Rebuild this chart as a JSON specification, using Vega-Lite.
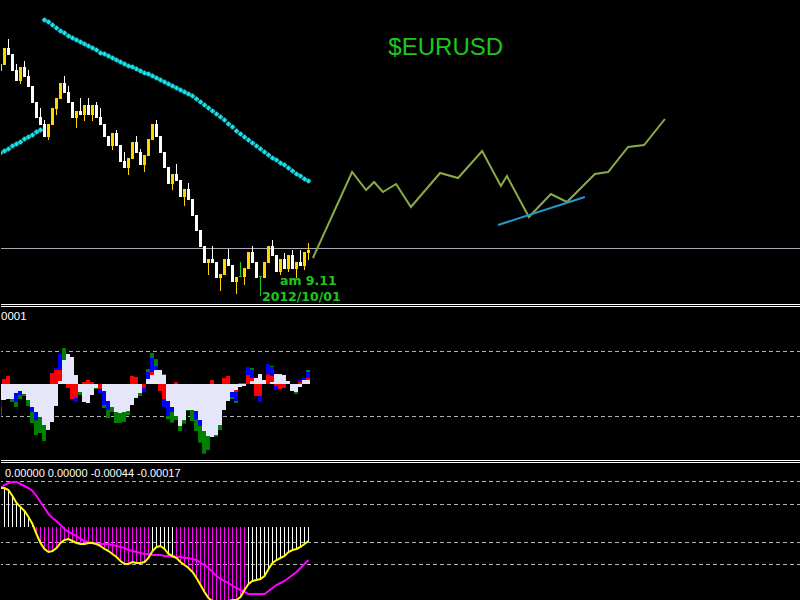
{
"$schema": "https://vega.github.io/schema/vega-lite/v6.json",
"background": "#000000",
"padding": 0,
"spacing": 0,
"config": {"view": {"stroke": null}, "concat": {"spacing": 0}},
"resolve": {"scale": {"color": "independent", "x": "independent", "y": "independent"}},
"datasets": {
"candles": [
{"i":-1,"o":1.3129,"c":1.3136,"h":1.3138,"l":1.3126,"d":"up"},
{"i":0,"o":1.3135,"c":1.3152,"h":1.3152,"l":1.3135,"d":"up"},
{"i":1,"o":1.3152,"c":1.3145,"h":1.3161,"l":1.3145,"d":"down"},
{"i":2,"o":1.3146,"c":1.3129,"h":1.3146,"l":1.3129,"d":"down"},
{"i":3,"o":1.3130,"c":1.3119,"h":1.3136,"l":1.3119,"d":"down"},
{"i":4,"o":1.3119,"c":1.3133,"h":1.3133,"l":1.3116,"d":"up"},
{"i":5,"o":1.3133,"c":1.3123,"h":1.3139,"l":1.3123,"d":"down"},
{"i":6,"o":1.3124,"c":1.3113,"h":1.3130,"l":1.3113,"d":"down"},
{"i":7,"o":1.3114,"c":1.3097,"h":1.3114,"l":1.3097,"d":"down"},
{"i":8,"o":1.3098,"c":1.3082,"h":1.3098,"l":1.3082,"d":"down"},
{"i":9,"o":1.3083,"c":1.3075,"h":1.3092,"l":1.3075,"d":"down"},
{"i":10,"o":1.3076,"c":1.3063,"h":1.3080,"l":1.3063,"d":"down"},
{"i":11,"o":1.3063,"c":1.3076,"h":1.3076,"l":1.3060,"d":"up"},
{"i":12,"o":1.3075,"c":1.3092,"h":1.3092,"l":1.3075,"d":"up"},
{"i":13,"o":1.3091,"c":1.3102,"h":1.3102,"l":1.3085,"d":"up"},
{"i":14,"o":1.3101,"c":1.3117,"h":1.3117,"l":1.3101,"d":"up"},
{"i":15,"o":1.3117,"c":1.3107,"h":1.3124,"l":1.3107,"d":"down"},
{"i":16,"o":1.3108,"c":1.3097,"h":1.3114,"l":1.3097,"d":"down"},
{"i":17,"o":1.3098,"c":1.3082,"h":1.3098,"l":1.3082,"d":"down"},
{"i":18,"o":1.3082,"c":1.3089,"h":1.3089,"l":1.3072,"d":"up"},
{"i":19,"o":1.3089,"c":1.3085,"h":1.3102,"l":1.3085,"d":"down"},
{"i":20,"o":1.3085,"c":1.3095,"h":1.3095,"l":1.3079,"d":"up"},
{"i":21,"o":1.3095,"c":1.3085,"h":1.3102,"l":1.3085,"d":"down"},
{"i":22,"o":1.3085,"c":1.3095,"h":1.3095,"l":1.3079,"d":"up"},
{"i":23,"o":1.3095,"c":1.3082,"h":1.3098,"l":1.3082,"d":"down"},
{"i":24,"o":1.3083,"c":1.3075,"h":1.3092,"l":1.3075,"d":"down"},
{"i":25,"o":1.3076,"c":1.3063,"h":1.3076,"l":1.3063,"d":"down"},
{"i":26,"o":1.3064,"c":1.3054,"h":1.3064,"l":1.3054,"d":"down"},
{"i":27,"o":1.3054,"c":1.3067,"h":1.3067,"l":1.3050,"d":"up"},
{"i":28,"o":1.3067,"c":1.3054,"h":1.3070,"l":1.3054,"d":"down"},
{"i":29,"o":1.3055,"c":1.3038,"h":1.3055,"l":1.3038,"d":"down"},
{"i":30,"o":1.3039,"c":1.3032,"h":1.3048,"l":1.3032,"d":"down"},
{"i":31,"o":1.3032,"c":1.3042,"h":1.3042,"l":1.3025,"d":"up"},
{"i":32,"o":1.3041,"c":1.3058,"h":1.3058,"l":1.3041,"d":"up"},
{"i":33,"o":1.3058,"c":1.3047,"h":1.3064,"l":1.3047,"d":"down"},
{"i":34,"o":1.3048,"c":1.3035,"h":1.3051,"l":1.3035,"d":"down"},
{"i":35,"o":1.3035,"c":1.3045,"h":1.3045,"l":1.3028,"d":"up"},
{"i":36,"o":1.3044,"c":1.3061,"h":1.3061,"l":1.3044,"d":"up"},
{"i":37,"o":1.3060,"c":1.3076,"h":1.3076,"l":1.3060,"d":"up"},
{"i":38,"o":1.3076,"c":1.3063,"h":1.3080,"l":1.3063,"d":"down"},
{"i":39,"o":1.3064,"c":1.3047,"h":1.3064,"l":1.3047,"d":"down"},
{"i":40,"o":1.3048,"c":1.3032,"h":1.3048,"l":1.3032,"d":"down"},
{"i":41,"o":1.3033,"c":1.3016,"h":1.3033,"l":1.3016,"d":"down"},
{"i":42,"o":1.3016,"c":1.3026,"h":1.3026,"l":1.3010,"d":"up"},
{"i":43,"o":1.3026,"c":1.3019,"h":1.3036,"l":1.3019,"d":"down"},
{"i":44,"o":1.3020,"c":1.3003,"h":1.3020,"l":1.3003,"d":"down"},
{"i":45,"o":1.3003,"c":1.3011,"h":1.3011,"l":1.2994,"d":"up"},
{"i":46,"o":1.3011,"c":1.3000,"h":1.3017,"l":1.3000,"d":"down"},
{"i":47,"o":1.3001,"c":1.2984,"h":1.3001,"l":1.2984,"d":"down"},
{"i":48,"o":1.2985,"c":1.2969,"h":1.2985,"l":1.2969,"d":"down"},
{"i":49,"o":1.2970,"c":1.2953,"h":1.2970,"l":1.2953,"d":"down"},
{"i":50,"o":1.2954,"c":1.2937,"h":1.2954,"l":1.2937,"d":"down"},
{"i":51,"o":1.2937,"c":1.2941,"h":1.2941,"l":1.2925,"d":"up"},
{"i":52,"o":1.2941,"c":1.2937,"h":1.2954,"l":1.2937,"d":"down"},
{"i":53,"o":1.2938,"c":1.2922,"h":1.2938,"l":1.2922,"d":"down"},
{"i":54,"o":1.2922,"c":1.2926,"h":1.2926,"l":1.2909,"d":"up"},
{"i":55,"o":1.2925,"c":1.2941,"h":1.2941,"l":1.2925,"d":"up"},
{"i":56,"o":1.2941,"c":1.2934,"h":1.2951,"l":1.2934,"d":"down"},
{"i":57,"o":1.2935,"c":1.2918,"h":1.2935,"l":1.2918,"d":"down"},
{"i":58,"o":1.2918,"c":1.2923,"h":1.2923,"l":1.2906,"d":"up"},
{"i":59,"o":1.2923,"c":1.2924,"h":1.2938,"l":1.2923,"d":"doji"},
{"i":60,"o":1.2923,"c":1.2932,"h":1.2932,"l":1.2915,"d":"up"},
{"i":61,"o":1.2931,"c":1.2948,"h":1.2948,"l":1.2931,"d":"up"},
{"i":62,"o":1.2948,"c":1.2937,"h":1.2954,"l":1.2937,"d":"down"},
{"i":63,"o":1.2938,"c":1.2922,"h":1.2938,"l":1.2922,"d":"down"},
{"i":64,"o":1.2923,"c":1.2924,"h":1.2924,"l":1.2904,"d":"doji"},
{"i":65,"o":1.2922,"c":1.2938,"h":1.2938,"l":1.2922,"d":"up"},
{"i":66,"o":1.2937,"c":1.2954,"h":1.2954,"l":1.2937,"d":"up"},
{"i":67,"o":1.2954,"c":1.2944,"h":1.2960,"l":1.2944,"d":"down"},
{"i":68,"o":1.2945,"c":1.2928,"h":1.2945,"l":1.2928,"d":"down"},
{"i":69,"o":1.2928,"c":1.2941,"h":1.2941,"l":1.2925,"d":"up"},
{"i":70,"o":1.2941,"c":1.2931,"h":1.2947,"l":1.2931,"d":"down"},
{"i":71,"o":1.2931,"c":1.2945,"h":1.2945,"l":1.2928,"d":"up"},
{"i":72,"o":1.2945,"c":1.2931,"h":1.2950,"l":1.2931,"d":"down"},
{"i":73,"o":1.2931,"c":1.2938,"h":1.2938,"l":1.2922,"d":"up"},
{"i":74,"o":1.2938,"c":1.2934,"h":1.2950,"l":1.2934,"d":"down"},
{"i":75,"o":1.2934,"c":1.2948,"h":1.2948,"l":1.2930,"d":"up"},
{"i":76,"o":1.2947,"c":1.2950,"h":1.2957,"l":1.2940,"d":"up"}
],
"ma": [
{"i":-1,"v":1.3047},{"i":0,"v":1.3049},{"i":1,"v":1.3051},{"i":2,"v":1.3054},{"i":3,"v":1.3056},{"i":4,"v":1.3058},{"i":5,"v":1.3061},{"i":6,"v":1.3063},{"i":7,"v":1.3065},{"i":8,"v":1.3068},{"i":9,"v":1.3070},
{"i":10,"v":1.3180},{"i":11,"v":1.3178},{"i":12,"v":1.3175},{"i":13,"v":1.3172},{"i":14,"v":1.3169},{"i":15,"v":1.3167},{"i":16,"v":1.3164},{"i":17,"v":1.3162},{"i":18,"v":1.3160},{"i":19,"v":1.3158},
{"i":20,"v":1.3156},{"i":21,"v":1.3154},{"i":22,"v":1.3152},{"i":23,"v":1.3150},{"i":24,"v":1.3147},{"i":25,"v":1.3146},{"i":26,"v":1.3144},{"i":27,"v":1.3142},{"i":28,"v":1.3140},{"i":29,"v":1.3138},
{"i":30,"v":1.3136},{"i":31,"v":1.3134},{"i":32,"v":1.3133},{"i":33,"v":1.3131},{"i":34,"v":1.3129},{"i":35,"v":1.3127},{"i":36,"v":1.3126},{"i":37,"v":1.3124},{"i":38,"v":1.3122},{"i":39,"v":1.3120},
{"i":40,"v":1.3118},{"i":41,"v":1.3116},{"i":42,"v":1.3114},{"i":43,"v":1.3112},{"i":44,"v":1.3110},{"i":45,"v":1.3108},{"i":46,"v":1.3106},{"i":47,"v":1.3104},{"i":48,"v":1.3101},{"i":49,"v":1.3098},
{"i":50,"v":1.3095},{"i":51,"v":1.3092},{"i":52,"v":1.3089},{"i":53,"v":1.3086},{"i":54,"v":1.3083},{"i":55,"v":1.3080},{"i":56,"v":1.3076},{"i":57,"v":1.3073},{"i":58,"v":1.3069},{"i":59,"v":1.3066},
{"i":60,"v":1.3063},{"i":61,"v":1.3060},{"i":62,"v":1.3057},{"i":63,"v":1.3054},{"i":64,"v":1.3051},{"i":65,"v":1.3048},{"i":66,"v":1.3045},{"i":67,"v":1.3042},{"i":68,"v":1.3040},{"i":69,"v":1.3037},
{"i":70,"v":1.3035},{"i":71,"v":1.3032},{"i":72,"v":1.3029},{"i":73,"v":1.3026},{"i":74,"v":1.3024},{"i":75,"v":1.3021},{"i":76,"v":1.3019}
],
"proj": [
{"i":77.1,"p":1.2942},{"i":86.9,"p":1.3028},{"i":90.4,"p":1.3010},{"i":92.4,"p":1.3018},{"i":94.6,"p":1.3008},{"i":97.9,"p":1.3016},{"i":101.6,"p":1.2993},{"i":108.9,"p":1.3027},{"i":113.4,"p":1.3022},{"i":119.4,"p":1.3049},{"i":124.1,"p":1.3014},{"i":125.6,"p":1.3024},{"i":131.1,"p":1.2983},{"i":136.6,"p":1.3006},{"i":140.6,"p":1.2998},{"i":147.6,"p":1.3026},{"i":150.9,"p":1.3028},{"i":155.9,"p":1.3053},{"i":159.9,"p":1.3055},{"i":165.1,"p":1.3081}
],
"trend": [{"i":123.4,"p":1.2975},{"i":145.1,"p":1.3003}],
"osc": [
{"i":-1,"a":0,"b":-0.00048,"k":"w"},{"i":-1,"a":-0.00048,"b":-0.00069,"k":"b"},{"i":-1,"a":-0.00069,"b":-0.00093,"k":"g"},
{"i":0,"a":0.00015,"b":0,"k":"r"},{"i":0,"a":0,"b":-0.00048,"k":"w"},
{"i":1,"a":0.00024,"b":0,"k":"r"},{"i":1,"a":0,"b":-0.00045,"k":"w"},
{"i":2,"a":0,"b":-0.00045,"k":"w"},{"i":2,"a":-0.00045,"b":-0.00054,"k":"g"},
{"i":3,"a":0,"b":-0.00027,"k":"w"},{"i":3,"a":-0.00027,"b":-0.00054,"k":"b"},{"i":3,"a":-0.00054,"b":-0.00069,"k":"g"},
{"i":4,"a":0,"b":-0.00021,"k":"w"},{"i":4,"a":-0.00021,"b":-0.00033,"k":"b"},{"i":4,"a":-0.00033,"b":-0.00045,"k":"g"},
{"i":5,"a":0,"b":-0.0003,"k":"w"},{"i":5,"a":-0.0003,"b":-0.00036,"k":"g"},
{"i":6,"a":0,"b":-0.00048,"k":"w"},{"i":6,"a":-0.00048,"b":-0.00066,"k":"g"},
{"i":7,"a":0,"b":-0.00069,"k":"w"},{"i":7,"a":-0.00069,"b":-0.00084,"k":"b"},{"i":7,"a":-0.00084,"b":-0.00117,"k":"g"},
{"i":8,"a":0,"b":-0.00084,"k":"w"},{"i":8,"a":-0.00084,"b":-0.00109,"k":"b"},{"i":8,"a":-0.00109,"b":-0.00153,"k":"g"},
{"i":9,"a":0,"b":-0.00099,"k":"w"},{"i":9,"a":-0.00099,"b":-0.00147,"k":"g"},
{"i":10,"a":0,"b":-0.00123,"k":"w"},{"i":10,"a":-0.00123,"b":-0.00171,"k":"g"},
{"i":11,"a":0,"b":-0.00138,"k":"w"},
{"i":12,"a":0.00033,"b":0,"k":"r"},{"i":12,"a":0,"b":-0.00114,"k":"w"},
{"i":13,"a":0.00048,"b":0.00042,"k":"b"},{"i":13,"a":0.00042,"b":0,"k":"r"},{"i":13,"a":0,"b":-0.00066,"k":"w"},
{"i":14,"a":0.0009,"b":0.00042,"k":"b"},{"i":14,"a":0.00042,"b":0.00009,"k":"r"},{"i":14,"a":0.00009,"b":0,"k":"w"},
{"i":15,"a":0.00108,"b":0.00072,"k":"g"},{"i":15,"a":0.00072,"b":0,"k":"w"},
{"i":16,"a":0.0009,"b":0,"k":"w"},{"i":16,"a":0,"b":-0.00012,"k":"r"},
{"i":17,"a":0.00081,"b":0,"k":"w"},{"i":17,"a":0,"b":-0.00045,"k":"r"},
{"i":18,"a":0.00027,"b":0,"k":"w"},{"i":18,"a":0,"b":-0.00042,"k":"r"},{"i":18,"a":-0.00042,"b":-0.00054,"k":"b"},
{"i":19,"a":0,"b":-0.00024,"k":"w"},{"i":19,"a":-0.00024,"b":-0.00033,"k":"g"},
{"i":20,"a":0.00006,"b":0,"k":"r"},{"i":20,"a":0,"b":-0.00054,"k":"w"},
{"i":21,"a":0.00012,"b":0,"k":"r"},{"i":21,"a":0,"b":-0.00057,"k":"w"},
{"i":22,"a":0.00006,"b":0,"k":"r"},{"i":22,"a":0,"b":-0.00033,"k":"w"},
{"i":23,"a":0,"b":-0.00012,"k":"w"},{"i":23,"a":-0.00012,"b":-0.00015,"k":"g"},
{"i":24,"a":0,"b":-0.00015,"k":"r"},{"i":24,"a":-0.00015,"b":-0.00027,"k":"b"},
{"i":25,"a":0,"b":-0.00021,"k":"w"},{"i":25,"a":-0.00021,"b":-0.00063,"k":"b"},{"i":25,"a":-0.00063,"b":-0.00072,"k":"g"},
{"i":26,"a":0,"b":-0.00051,"k":"w"},{"i":26,"a":-0.00051,"b":-0.00078,"k":"b"},{"i":26,"a":-0.00078,"b":-0.00102,"k":"g"},
{"i":27,"a":0,"b":-0.00069,"k":"w"},{"i":27,"a":-0.00069,"b":-0.00084,"k":"g"},
{"i":28,"a":0,"b":-0.00084,"k":"w"},{"i":28,"a":-0.00084,"b":-0.00117,"k":"g"},
{"i":29,"a":0,"b":-0.00087,"k":"w"},{"i":29,"a":-0.00087,"b":-0.00117,"k":"g"},
{"i":30,"a":0,"b":-0.00084,"k":"w"},{"i":30,"a":-0.00084,"b":-0.00114,"k":"g"},
{"i":31,"a":0,"b":-0.00081,"k":"w"},{"i":31,"a":-0.00081,"b":-0.00093,"k":"g"},
{"i":32,"a":0.00024,"b":0,"k":"r"},{"i":32,"a":0,"b":-0.00063,"k":"w"},
{"i":33,"a":0.00021,"b":0,"k":"r"},{"i":33,"a":0,"b":-0.00042,"k":"w"},
{"i":34,"a":0,"b":-0.00027,"k":"w"},{"i":34,"a":-0.00027,"b":-0.00036,"k":"g"},
{"i":35,"a":0,"b":-0.00012,"k":"r"},{"i":35,"a":-0.00012,"b":-0.00024,"k":"b"},
{"i":36,"a":0.00045,"b":0.00036,"k":"g"},{"i":36,"a":0.00036,"b":0.00015,"k":"b"},{"i":36,"a":0.00015,"b":0,"k":"w"},
{"i":37,"a":0.00093,"b":0.00078,"k":"g"},{"i":37,"a":0.00078,"b":0.00036,"k":"b"},{"i":37,"a":0.00036,"b":0.00027,"k":"r"},{"i":37,"a":0.00027,"b":0,"k":"w"},
{"i":38,"a":0.00075,"b":0.00054,"k":"g"},{"i":38,"a":0.00054,"b":0.00042,"k":"b"},{"i":38,"a":0.00042,"b":0,"k":"w"},
{"i":39,"a":0.00042,"b":0,"k":"w"},{"i":39,"a":0,"b":-0.00021,"k":"r"},
{"i":40,"a":0.00028,"b":0,"k":"w"},{"i":40,"a":0,"b":-0.00045,"k":"r"},{"i":40,"a":-0.00045,"b":-0.00069,"k":"b"},
{"i":41,"a":0,"b":-0.00051,"k":"w"},{"i":41,"a":-0.00051,"b":-0.00096,"k":"b"},{"i":41,"a":-0.00096,"b":-0.00106,"k":"g"},
{"i":42,"a":0,"b":-0.00069,"k":"w"},{"i":42,"a":-0.00069,"b":-0.00084,"k":"b"},{"i":42,"a":-0.00084,"b":-0.00116,"k":"g"},
{"i":43,"a":0.00006,"b":0,"k":"r"},{"i":43,"a":0,"b":-0.00096,"k":"w"},{"i":43,"a":-0.00096,"b":-0.00108,"k":"g"},
{"i":44,"a":0,"b":-0.00126,"k":"w"},{"i":44,"a":-0.00126,"b":-0.00141,"k":"g"},
{"i":45,"a":0,"b":-0.00108,"k":"w"},{"i":45,"a":-0.00108,"b":-0.00119,"k":"g"},
{"i":46,"a":0,"b":-0.00078,"k":"w"},{"i":46,"a":-0.00078,"b":-0.00081,"k":"g"},
{"i":47,"a":0,"b":-0.00078,"k":"w"},{"i":47,"a":-0.00078,"b":-0.00111,"k":"g"},
{"i":48,"a":0,"b":-0.00081,"k":"w"},{"i":48,"a":-0.00081,"b":-0.00106,"k":"b"},{"i":48,"a":-0.00106,"b":-0.00141,"k":"g"},
{"i":49,"a":0,"b":-0.00108,"k":"w"},{"i":49,"a":-0.00108,"b":-0.00126,"k":"b"},{"i":49,"a":-0.00126,"b":-0.00176,"k":"g"},
{"i":50,"a":0,"b":-0.00141,"k":"w"},{"i":50,"a":-0.00141,"b":-0.00209,"k":"g"},
{"i":51,"a":0,"b":-0.00156,"k":"w"},{"i":51,"a":-0.00156,"b":-0.00198,"k":"g"},
{"i":52,"a":0.00012,"b":0,"k":"r"},{"i":52,"a":0,"b":-0.00159,"k":"w"},
{"i":53,"a":0,"b":-0.00153,"k":"w"},{"i":53,"a":-0.00153,"b":-0.00158,"k":"g"},
{"i":54,"a":0,"b":-0.00123,"k":"w"},{"i":54,"a":-0.00123,"b":-0.00138,"k":"g"},
{"i":55,"a":0.00018,"b":0,"k":"r"},{"i":55,"a":0,"b":-0.00078,"k":"w"},
{"i":56,"a":0.00024,"b":0,"k":"r"},{"i":56,"a":0,"b":-0.00051,"k":"w"},
{"i":57,"a":0,"b":-0.00024,"k":"w"},{"i":57,"a":-0.00024,"b":-0.00039,"k":"b"},{"i":57,"a":-0.00039,"b":-0.00045,"k":"g"},
{"i":58,"a":0,"b":-0.00018,"k":"w"},{"i":58,"a":-0.00018,"b":-0.00024,"k":"r"},{"i":58,"a":-0.00024,"b":-0.00051,"k":"b"},{"i":58,"a":-0.00051,"b":-0.00057,"k":"g"},
{"i":59,"a":0.00003,"b":0,"k":"r"},{"i":59,"a":0,"b":-0.00009,"k":"w"},
{"i":60,"a":0.00003,"b":0,"k":"r"},{"i":60,"a":0,"b":-0.00006,"k":"w"},
{"i":61,"a":0.00051,"b":0.00027,"k":"b"},{"i":61,"a":0.00027,"b":0,"k":"r"},
{"i":62,"a":0.00048,"b":0.00042,"k":"g"},{"i":62,"a":0.00042,"b":0.00018,"k":"b"},{"i":62,"a":0.00018,"b":0.00009,"k":"r"},{"i":62,"a":0.00009,"b":0,"k":"w"},
{"i":63,"a":0.00018,"b":0,"k":"w"},{"i":63,"a":0,"b":-0.00036,"k":"r"},
{"i":64,"a":0.0003,"b":0,"k":"w"},{"i":64,"a":0,"b":-0.00036,"k":"r"},{"i":64,"a":-0.00036,"b":-0.00054,"k":"b"},
{"i":65,"a":0.00012,"b":0,"k":"w"},
{"i":66,"a":0.0006,"b":0.00029,"k":"b"},{"i":66,"a":0.00029,"b":0,"k":"r"},
{"i":67,"a":0.00054,"b":0.00051,"k":"g"},{"i":67,"a":0.00051,"b":0.00024,"k":"b"},{"i":67,"a":0.00024,"b":0.00006,"k":"r"},{"i":67,"a":0.00006,"b":0,"k":"w"},
{"i":68,"a":0.0003,"b":0,"k":"w"},{"i":68,"a":0,"b":-0.00006,"k":"r"},{"i":68,"a":-0.00006,"b":-0.00018,"k":"b"},
{"i":69,"a":0.0003,"b":0,"k":"w"},{"i":69,"a":0,"b":-0.00015,"k":"r"},
{"i":70,"a":0.00027,"b":0,"k":"w"},{"i":70,"a":0,"b":-0.00012,"k":"r"},
{"i":71,"a":0.00009,"b":0,"k":"w"},
{"i":72,"a":0,"b":-0.00021,"k":"w"},
{"i":73,"a":0,"b":-0.00024,"k":"w"},{"i":73,"a":-0.00024,"b":-0.0003,"k":"g"},
{"i":74,"a":0.00012,"b":0.00006,"k":"b"},{"i":74,"a":0.00006,"b":0,"k":"r"},{"i":74,"a":0,"b":-0.00009,"k":"w"},
{"i":75,"a":0.00019,"b":0.00012,"k":"b"},{"i":75,"a":0.00012,"b":0,"k":"w"},
{"i":76,"a":0.00042,"b":0.00036,"k":"g"},{"i":76,"a":0.00036,"b":0.00018,"k":"b"},{"i":76,"a":0.00018,"b":0.00012,"k":"r"},{"i":76,"a":0.00012,"b":0,"k":"w"}
],
"macd": [
{"i":-1,"m":0.00039,"s":0.00039,"k":"w"},{"i":0,"m":0.00039,"s":0.00042,"k":"w"},{"i":1,"m":0.00037,"s":0.00044,"k":"w"},{"i":2,"m":0.00031,"s":0.00045,"k":"w"},{"i":3,"m":0.00024,"s":0.00045,"k":"w"},{"i":4,"m":0.0002,"s":0.00043,"k":"w"},{"i":5,"m":0.00016,"s":0.00041,"k":"w"},{"i":6,"m":0.0001,"s":0.00039,"k":"w"},{"i":7,"m":0.00003,"s":0.00036,"k":"w"},
{"i":8,"m":-0.00007,"s":0.00031,"k":"m"},{"i":9,"m":-0.00016,"s":0.00025,"k":"m"},{"i":10,"m":-0.00022,"s":0.00019,"k":"m"},{"i":11,"m":-0.00025,"s":0.00013,"k":"m"},{"i":12,"m":-0.00024,"s":0.00009,"k":"m"},{"i":13,"m":-0.00021,"s":0.00006,"k":"m"},{"i":14,"m":-0.00016,"s":0.00002,"k":"m"},{"i":15,"m":-0.00013,"s":-0.00002,"k":"m"},{"i":16,"m":-0.00012,"s":-0.00005,"k":"m"},{"i":17,"m":-0.00014,"s":-0.00007,"k":"m"},
{"i":18,"m":-0.00016,"s":-0.00009,"k":"m"},{"i":19,"m":-0.00017,"s":-0.00012,"k":"m"},{"i":20,"m":-0.00017,"s":-0.00014,"k":"m"},{"i":21,"m":-0.00016,"s":-0.00015,"k":"m"},{"i":22,"m":-0.00016,"s":-0.00016,"k":"m"},{"i":23,"m":-0.00017,"s":-0.00017,"k":"m"},{"i":24,"m":-0.00019,"s":-0.00017,"k":"m"},{"i":25,"m":-0.00022,"s":-0.00017,"k":"m"},{"i":26,"m":-0.00024,"s":-0.00017,"k":"m"},{"i":27,"m":-0.00027,"s":-0.00018,"k":"m"},
{"i":28,"m":-0.0003,"s":-0.00019,"k":"m"},{"i":29,"m":-0.00034,"s":-0.0002,"k":"m"},{"i":30,"m":-0.00037,"s":-0.00021,"k":"m"},{"i":31,"m":-0.00037,"s":-0.00023,"k":"m"},{"i":32,"m":-0.00035,"s":-0.00024,"k":"m"},{"i":33,"m":-0.00036,"s":-0.00025,"k":"m"},{"i":34,"m":-0.00036,"s":-0.00026,"k":"m"},{"i":35,"m":-0.00035,"s":-0.00027,"k":"m"},{"i":36,"m":-0.00031,"s":-0.00027,"k":"m"},
{"i":37,"m":-0.00024,"s":-0.00028,"k":"w"},{"i":38,"m":-0.0002,"s":-0.00028,"k":"w"},{"i":39,"m":-0.00019,"s":-0.00028,"k":"w"},{"i":40,"m":-0.00022,"s":-0.00029,"k":"w"},{"i":41,"m":-0.00027,"s":-0.00029,"k":"w"},{"i":42,"m":-0.00029,"s":-0.0003,"k":"w"},
{"i":43,"m":-0.00031,"s":-0.0003,"k":"m"},{"i":44,"m":-0.00035,"s":-0.0003,"k":"m"},{"i":45,"m":-0.00038,"s":-0.00031,"k":"m"},{"i":46,"m":-0.00041,"s":-0.00031,"k":"m"},{"i":47,"m":-0.00045,"s":-0.00032,"k":"m"},{"i":48,"m":-0.00051,"s":-0.00033,"k":"m"},{"i":49,"m":-0.00058,"s":-0.00036,"k":"m"},{"i":50,"m":-0.00065,"s":-0.00038,"k":"m"},{"i":51,"m":-0.00071,"s":-0.00041,"k":"m"},
{"i":52,"m":-0.00074,"s":-0.00045,"k":"m"},{"i":53,"m":-0.00076,"s":-0.00049,"k":"m"},{"i":54,"m":-0.00077,"s":-0.00052,"k":"m"},{"i":55,"m":-0.00076,"s":-0.00054,"k":"m"},{"i":56,"m":-0.00074,"s":-0.00056,"k":"m"},{"i":57,"m":-0.00073,"s":-0.00059,"k":"m"},{"i":58,"m":-0.00073,"s":-0.00061,"k":"m"},{"i":59,"m":-0.0007,"s":-0.00063,"k":"m"},{"i":60,"m":-0.00063,"s":-0.00065,"k":"m"},
{"i":61,"m":-0.00057,"s":-0.00067,"k":"w"},{"i":62,"m":-0.00054,"s":-0.00067,"k":"w"},{"i":63,"m":-0.00053,"s":-0.00067,"k":"w"},{"i":64,"m":-0.00052,"s":-0.00067,"k":"w"},{"i":65,"m":-0.00049,"s":-0.00067,"k":"w"},{"i":66,"m":-0.00042,"s":-0.00064,"k":"w"},{"i":67,"m":-0.00036,"s":-0.00061,"k":"w"},{"i":68,"m":-0.00033,"s":-0.00058,"k":"w"},
{"i":69,"m":-0.00031,"s":-0.00056,"k":"w"},{"i":70,"m":-0.00029,"s":-0.00054,"k":"w"},{"i":71,"m":-0.00025,"s":-0.00051,"k":"w"},{"i":72,"m":-0.00023,"s":-0.00048,"k":"w"},{"i":73,"m":-0.00022,"s":-0.00045,"k":"w"},{"i":74,"m":-0.0002,"s":-0.00041,"k":"w"},{"i":75,"m":-0.00017,"s":-0.00037,"k":"w"},{"i":76,"m":-0.00014,"s":-0.00033,"k":"w"}
]
},
"vconcat": [
{
"width": 800, "height": 303,
"layer": [
{"data": {"values": [{"p": 1.29515}]}, "mark": {"type": "rule", "color": "#a8a8b8", "strokeWidth": 1},
 "encoding": {"y": {"field": "p", "type": "quantitative", "scale": {"domain": [1.2897, 1.32], "nice": false, "zero": false}, "axis": null}}},
{"data": {"name": "ma"}, "mark": {"type": "point", "shape": "cross", "size": 18, "filled": true, "fill": "#20e8f0", "stroke": "#20e8f0", "strokeWidth": 0.6, "opacity": 1, "clip": true},
 "encoding": {"x": {"field": "i", "type": "quantitative", "scale": {"domain": [-0.875, 199.125], "nice": false, "zero": false, "padding": 0}, "axis": null},
  "y": {"field": "v", "type": "quantitative", "scale": {"domain": [1.2897, 1.32], "nice": false, "zero": false}, "axis": null}}},
{"data": {"name": "candles"}, "mark": {"type": "rule", "strokeWidth": 1, "clip": true},
 "encoding": {"x": {"field": "i", "type": "quantitative", "scale": {"domain": [-0.875, 199.125], "nice": false, "zero": false, "padding": 0}, "axis": null},
  "y": {"field": "l", "type": "quantitative", "axis": null}, "y2": {"field": "h"},
  "color": {"field": "d", "type": "nominal", "scale": {"domain": ["up", "down", "doji"], "range": ["#ffd700", "#ffffff", "#1ec81e"]}, "legend": null}}},
{"data": {"name": "candles"}, "mark": {"type": "bar", "size": 3, "orient": "vertical", "clip": true},
 "encoding": {"x": {"field": "i", "type": "quantitative", "scale": {"domain": [-0.875, 199.125], "nice": false, "zero": false, "padding": 0}, "axis": null},
  "y": {"field": "o", "type": "quantitative", "axis": null}, "y2": {"field": "c"},
  "color": {"field": "d", "type": "nominal", "scale": {"domain": ["up", "down", "doji"], "range": ["#ffd700", "#ffffff", "#1ec81e"]}, "legend": null}}},
{"data": {"name": "proj"}, "mark": {"type": "line", "color": "#8aaa48", "strokeWidth": 2, "clip": true},
 "encoding": {"x": {"field": "i", "type": "quantitative", "axis": null}, "y": {"field": "p", "type": "quantitative", "axis": null}}},
{"data": {"name": "trend"}, "mark": {"type": "line", "color": "#1e9ad0", "strokeWidth": 2, "clip": true},
 "encoding": {"x": {"field": "i", "type": "quantitative", "axis": null}, "y": {"field": "p", "type": "quantitative", "axis": null}}},
{"data": {"values": [{"i": 110.3, "p": 1.3145, "t": "$EURUSD"}]}, "mark": {"type": "text", "font": "Liberation Sans", "fontSize": 24, "color": "#1cc81c", "align": "center", "baseline": "alphabetic"},
 "encoding": {"x": {"field": "i", "type": "quantitative", "axis": null}, "y": {"field": "p", "type": "quantitative", "axis": null}, "text": {"field": "t"}}},
{"data": {"values": [{"i": 68.875, "p": 1.2915, "t": "am 9.11"}, {"i": 64.375, "p": 1.2899, "t": "2012/10/01"}]}, "mark": {"type": "text", "font": "DejaVu Sans", "fontWeight": "bold", "fontSize": 12.5, "color": "#1cc81c", "align": "left", "baseline": "alphabetic"},
 "encoding": {"x": {"field": "i", "type": "quantitative", "axis": null}, "y": {"field": "p", "type": "quantitative", "axis": null}, "text": {"field": "t"}}}
]
},
{
"width": 800, "height": 156,
"layer": [
{"data": {"values": [{"v": 0.002385}, {"v": 0.002325}]}, "mark": {"type": "rule", "color": "#ffffff", "strokeWidth": 1},
 "encoding": {"y": {"field": "v", "type": "quantitative", "scale": {"domain": [-0.00228, 0.0024], "nice": false, "zero": false}, "axis": null}}},
{"data": {"values": [{"v": 0.000975}, {"v": -0.000975}]}, "mark": {"type": "rule", "color": "#b4b4b4", "strokeWidth": 1, "strokeDash": [4, 3]},
 "encoding": {"y": {"field": "v", "type": "quantitative", "axis": null}}},
{"data": {"name": "osc"}, "mark": {"type": "bar", "size": 4, "orient": "vertical", "xOffset": -0.5, "clip": true},
 "encoding": {"x": {"field": "i", "type": "quantitative", "scale": {"domain": [-0.875, 199.125], "nice": false, "zero": false, "padding": 0}, "axis": null},
  "y": {"field": "a", "type": "quantitative", "axis": null}, "y2": {"field": "b"},
  "color": {"field": "k", "type": "nominal", "scale": {"domain": ["w", "r", "b", "g"], "range": ["#e6e6fa", "#ff0000", "#0000ff", "#008000"]}, "legend": null}}},
{"data": {"values": [{"i": -0.875, "v": 0.00192, "t": "0001"}]}, "mark": {"type": "text", "font": "Liberation Sans Narrow, Liberation Sans", "fontSize": 11.5, "color": "#ffffff", "align": "left", "baseline": "alphabetic"},
 "encoding": {"x": {"field": "i", "type": "quantitative", "axis": null}, "y": {"field": "v", "type": "quantitative", "axis": null}, "text": {"field": "t"}}}
]
},
{
"width": 800, "height": 141,
"layer": [
{"data": {"values": [{"v": 0.000665}, {"v": 0.000645}]}, "mark": {"type": "rule", "color": "#ffffff", "strokeWidth": 1},
 "encoding": {"y": {"field": "v", "type": "quantitative", "scale": {"domain": [-0.00074, 0.00067], "nice": false, "zero": false}, "axis": null}}},
{"data": {"values": [{"v": 0.000455}, {"v": 0.000225}, {"v": -0.000155}, {"v": -0.000375}]}, "mark": {"type": "rule", "color": "#b4b4b4", "strokeWidth": 1, "strokeDash": [4, 3]},
 "encoding": {"y": {"field": "v", "type": "quantitative", "axis": null}}},
{"data": {"name": "macd"}, "mark": {"type": "rule", "strokeWidth": 1, "clip": true},
 "encoding": {"x": {"field": "i", "type": "quantitative", "scale": {"domain": [-0.875, 199.125], "nice": false, "zero": false, "padding": 0}, "axis": null},
  "y": {"field": "m", "type": "quantitative", "axis": null}, "y2": {"datum": 0},
  "color": {"field": "k", "type": "nominal", "scale": {"domain": ["w", "m"], "range": ["#ffffff", "#ff00ff"]}, "legend": null}}},
{"data": {"name": "macd"}, "mark": {"type": "line", "color": "#ff00ff", "strokeWidth": 2, "clip": true},
 "encoding": {"x": {"field": "i", "type": "quantitative", "axis": null}, "y": {"field": "s", "type": "quantitative", "axis": null}}},
{"data": {"name": "macd"}, "mark": {"type": "line", "color": "#ffff00", "strokeWidth": 2, "clip": true},
 "encoding": {"x": {"field": "i", "type": "quantitative", "axis": null}, "y": {"field": "m", "type": "quantitative", "axis": null}}},
{"data": {"values": [{"i": 0.125, "v": 0.0005, "t": "0.00000 0.00000 -0.00044 -0.00017"}]}, "mark": {"type": "text", "font": "Liberation Sans Narrow, Liberation Sans", "fontSize": 11, "color": "#ffffff", "align": "left", "baseline": "alphabetic"},
 "encoding": {"x": {"field": "i", "type": "quantitative", "axis": null}, "y": {"field": "v", "type": "quantitative", "axis": null}, "text": {"field": "t"}}}
]
}
]
}
